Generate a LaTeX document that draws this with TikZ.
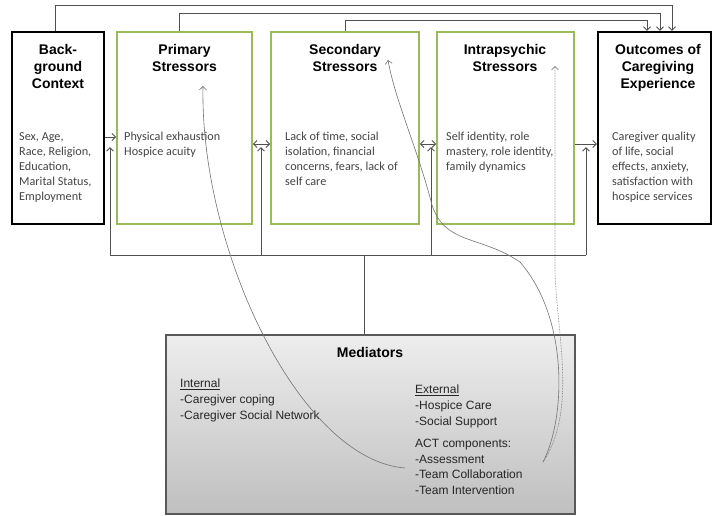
\documentclass[tikz,border=0pt]{standalone}
\usepackage{fontspec}
\setmainfont{Carlito}
\newfontfamily\arialf{Liberation Sans}
\usetikzlibrary{arrows.meta,calc}
\definecolor{olivebox}{HTML}{9BBB59}
\definecolor{connc}{HTML}{505050}
\definecolor{bodyc}{HTML}{454545}
\begin{document}
\begin{tikzpicture}[x=1pt,y=-1pt,
  >={Straight Barb[length=3.5pt,width=7pt]},
  blackbox/.style={draw=black,line width=2.4pt,fill=white,minimum height=192pt,inner sep=0pt},
  greenbox/.style={draw=olivebox,line width=1.8pt,fill=white,minimum height=192pt,inner sep=0pt},
  medbox/.style={draw=black!65,line width=1.4pt,top color=black!7,bottom color=black!25,minimum width=409pt,minimum height=179pt,inner sep=0pt},
  title/.style={font=\arialf\bfseries\fontsize{14}{17}\selectfont,align=center,inner sep=0pt},
  body/.style={font=\fontsize{12.2}{15}\selectfont,text=bodyc,align=left,inner sep=0pt},
  medtext/.style={font=\arialf\fontsize{12}{15.6}\selectfont,text=black!85,align=left,inner sep=0pt},
  conn/.style={draw=connc,line width=0.9pt},
  curv/.style={draw=black!55,line width=0.6pt}]
\useasboundingbox (0,0) rectangle (713,515);

% boxes
\node[blackbox,minimum width=92pt] (bg) at (58,128) {};
\node[greenbox,minimum width=135pt] (prim) at (184.5,128) {};
\node[greenbox,minimum width=148pt] (sec) at (345,128) {};
\node[greenbox,minimum width=137pt] (intra) at (505.5,128) {};
\node[blackbox,minimum width=113pt] (out) at (654.5,128) {};
\node[medbox] (med) at (370.5,424.5) {};

% titles
\node[title,anchor=north] (bgT) at (58,44) {Back-\\ground\\Context};
\node[title,anchor=north] (primT) at (184.5,44) {Primary\\Stressors};
\node[title,anchor=north] (secT) at (345,44) {Secondary\\Stressors};
\node[title,anchor=north] (intraT) at (505,44) {Intrapsychic\\Stressors};
\node[title,anchor=north] (outT) at (658,44) {Outcomes of\\Caregiving\\Experience};

% body texts
\node[body,anchor=north west] (bgB) at (19,132) {Sex, Age,\\Race, Religion,\\Education,\\Marital Status,\\Employment};
\node[body,anchor=north west] (primB) at (124,132) {Physical exhaustion\\Hospice acuity};
\node[body,anchor=north west] (secB) at (285,132) {Lack of time, social\\isolation, financial\\concerns, fears, lack of\\self care};
\node[body,anchor=north west] (intraB) at (446,132) {Self identity, role\\mastery, role identity,\\family dynamics};
\node[body,anchor=north west] (outB) at (612,132) {Caregiver quality\\of life, social\\effects, anxiety,\\satisfaction with\\hospice services};

% mediators text
\node[title] (medT) at (370,352) {Mediators};
\node[medtext,anchor=north west] (intT) at (180,379) {\underline{Internal}\\-Caregiver coping\\-Caregiver Social Network};
\node[medtext,anchor=north west] (extT) at (415,385) {\underline{External}\\-Hospice Care\\-Social Support\\[7pt]ACT components:\\-Assessment\\-Team Collaboration\\-Team Intervention};

% top feedback lines
\draw[conn,->] ([xshift=-3pt]bg.north) -- ++(0,-25) -| ([xshift=17.5pt]out.north);
\draw[conn,->] ([xshift=-5.5pt]prim.north) -- ++(0,-18) -| ([xshift=5.5pt]out.north);
\draw[conn,->] (sec.north) -- ++(0,-11) -| ([xshift=-7.5pt]out.north);

% horizontal arrows between boxes
\coordinate (ya) at (0,137);
\coordinate (yb) at (0,144);
\draw[conn,->] (bg.east |- ya) -- (prim.west |- ya);
\draw[conn,<->] (prim.east |- yb) -- (sec.west |- yb);
\draw[conn,<->] (sec.east |- yb) -- (intra.west |- yb);
\draw[conn,->] (intra.east |- yb) -- (out.west |- yb);

% bus from mediators
\coordinate (tipy) at (0,147);
\coordinate (g1) at (110,255);
\coordinate (g2) at (261,255);
\coordinate (g3) at (431,255);
\coordinate (g4) at (586,255);
\coordinate (mx) at (364,255);
\draw[conn] (g1) -- (g4);
\draw[conn,->] (g1) -- (g1 |- tipy);
\draw[conn,->] (g2) -- (g2 |- tipy);
\draw[conn,->] (g3) -- (g3 |- tipy);
\draw[conn,->] (g4) -- (g4 |- tipy);
\draw[conn] (mx) -- (mx |- med.north);

% curved links
\coordinate (pA) at (203,86);
\coordinate (eA) at (405,468);
\coordinate (pB) at (388,60);
\coordinate (eB) at (543,462);
\coordinate (pC) at (555,66);
\draw[curv,->] (eA) .. controls (300,460) and (200,250) .. (pA);
\draw[curv,->] (eB) .. controls (565,420) and (570,320) .. (520,262) .. controls (480,235) and (445,245) .. (432,205) .. controls (418,150) and (395,100) .. (pB);
\draw[curv,draw=black!60,densely dotted,->] (eB) .. controls (578,410) and (556,330) .. (555,270) -- (pC);
\end{tikzpicture}
\end{document}
